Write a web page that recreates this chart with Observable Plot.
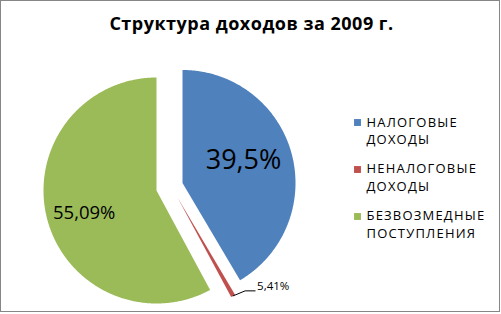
<!DOCTYPE html>
<html><head><meta charset="utf-8">
<script src="https://cdn.jsdelivr.net/npm/d3@7"></script>
<script src="https://cdn.jsdelivr.net/npm/@observablehq/plot@0.6"></script>
<style>
body{margin:0;background:#fff;}
#wrap{position:relative;width:501px;height:314px;overflow:hidden;}
#chart{position:absolute;left:0;top:0;}
#title{position:absolute;left:1px;width:501px;top:11px;line-height:24px;text-align:center;font-family:"Open Sans";font-weight:bold;font-size:18px;letter-spacing:0.5px;color:#000;}
#frame{position:absolute;left:0;top:0;width:498px;height:310px;border:1px solid #868686;pointer-events:none;}
</style></head><body>
<div id="wrap"><div id="chart"></div><div id="title">Структура доходов за 2009 г.</div><div id="frame"></div></div>
<script>
// ---- data ----
const categories = ["НАЛОГОВЫЕ ДОХОДЫ", "НЕНАЛОГОВЫЕ ДОХОДЫ", "БЕЗВОЗМЕДНЫЕ ПОСТУПЛЕНИЯ"];
const legendLines = [["НАЛОГОВЫЕ", "ДОХОДЫ"], ["НЕНАЛОГОВЫЕ", "ДОХОДЫ"], ["БЕЗВОЗМЕДНЫЕ", "ПОСТУПЛЕНИЯ"]];
const sliceShares = [39.5, 0.6, 55.09];          // visual slice sizes
const sliceLabels = ["39,5%", "5,41%", "55,09%"]; // printed data labels
const colors = ["#4F81BD", "#C0504D", "#9BBB59"];

// ---- layout ----
const W = 501, H = 314;
const cx = 156, cy = 190, R = 113;
const sliceOffset = [[26, -7.5], [21, 7], [0, 0]];  // explosion
const labelMode = ["inside", "outside", "inside"];
const labelRadius = [0.56, 1, 0.66];
const labelDy = [-6, 0, 4];
const labelSize = [27, 11.5, 18.5];

const arcs = d3.pie().sort(null).value(d => d)(sliceShares);

const piePts = [];
arcs.forEach((a, i) => {
  const ox = cx + sliceOffset[i][0], oy = cy + sliceOffset[i][1];
  const n = Math.max(2, Math.ceil((a.endAngle - a.startAngle) / (Math.PI / 360)));
  piePts.push({name: categories[i], x: ox, y: oy});
  for (let k = 0; k <= n; k++) {
    const t = a.startAngle + (a.endAngle - a.startAngle) * k / n;
    piePts.push({name: categories[i], x: ox + R * Math.sin(t), y: oy - R * Math.cos(t)});
  }
  piePts.push({name: categories[i], x: ox, y: oy});
});

const inside = [], outside = [], leaders = [];
arcs.forEach((a, i) => {
  const ox = cx + sliceOffset[i][0], oy = cy + sliceOffset[i][1];
  const m = (a.startAngle + a.endAngle) / 2;
  const px = ox + labelRadius[i] * R * Math.sin(m), py = oy - labelRadius[i] * R * Math.cos(m);
  if (labelMode[i] === "inside") {
    inside.push({x: px, y: py + labelDy[i], text: sliceLabels[i], size: labelSize[i]});
  } else {
    const e = {x: px + 12, y: py - 5}, f = {x: e.x + 10, y: e.y};
    leaders.push({x: px, y: py}, e, f);
    outside.push({x: f.x + 2, y: f.y - 5, text: sliceLabels[i], size: labelSize[i]});
  }
});

const legend = categories.map((c, i) => ({name: c, text: legendLines[i].join("\n"), y: 113.5 + i * 46.7, ys: 122 + i * 47}));

const chart = Plot.plot({
  width: W, height: H,
  margin: 0,
  style: {background: "transparent", overflow: "visible"},
  x: {domain: [0, W], range: [0, W], axis: null},
  y: {domain: [0, H], range: [0, H], axis: null},
  color: {type: "ordinal", domain: categories, range: colors},
  marks: [
    Plot.line(piePts, {x: "x", y: "y", z: "name", fill: "name", stroke: "none", curve: "linear"}),
    Plot.line(leaders, {x: "x", y: "y", stroke: "#000", strokeWidth: 1}),
    Plot.text(inside, {x: "x", y: "y", text: "text", fontSize: "size", fill: "#000", fontFamily: "Open Sans", textAnchor: "middle"}),
    Plot.text(outside, {x: "x", y: "y", text: "text", fontSize: "size", fill: "#000", fontFamily: "Open Sans", textAnchor: "start"}),
    Plot.dot(legend, {x: () => 357, y: "ys", symbol: "square", r: 3.9, fill: "name", stroke: "none"}),
    Plot.text(legend, {x: () => 366, y: "y", text: "text", textAnchor: "start", lineAnchor: "top", lineHeight: 1.36, fontSize: 13, fontFamily: "Open Sans", fill: "#000"})
  ]
});
const legendWords = new Set(legendLines.flat());
chart.querySelectorAll("text, tspan").forEach(t => {
  if (legendWords.has(t.textContent.trim()) || legendLines.some(l => l.join("") === t.textContent.replace(/\s/g, ""))) {
    t.style.letterSpacing = "1.2px";
  }
});
document.getElementById("chart").appendChild(chart);
</script>
</body></html>
